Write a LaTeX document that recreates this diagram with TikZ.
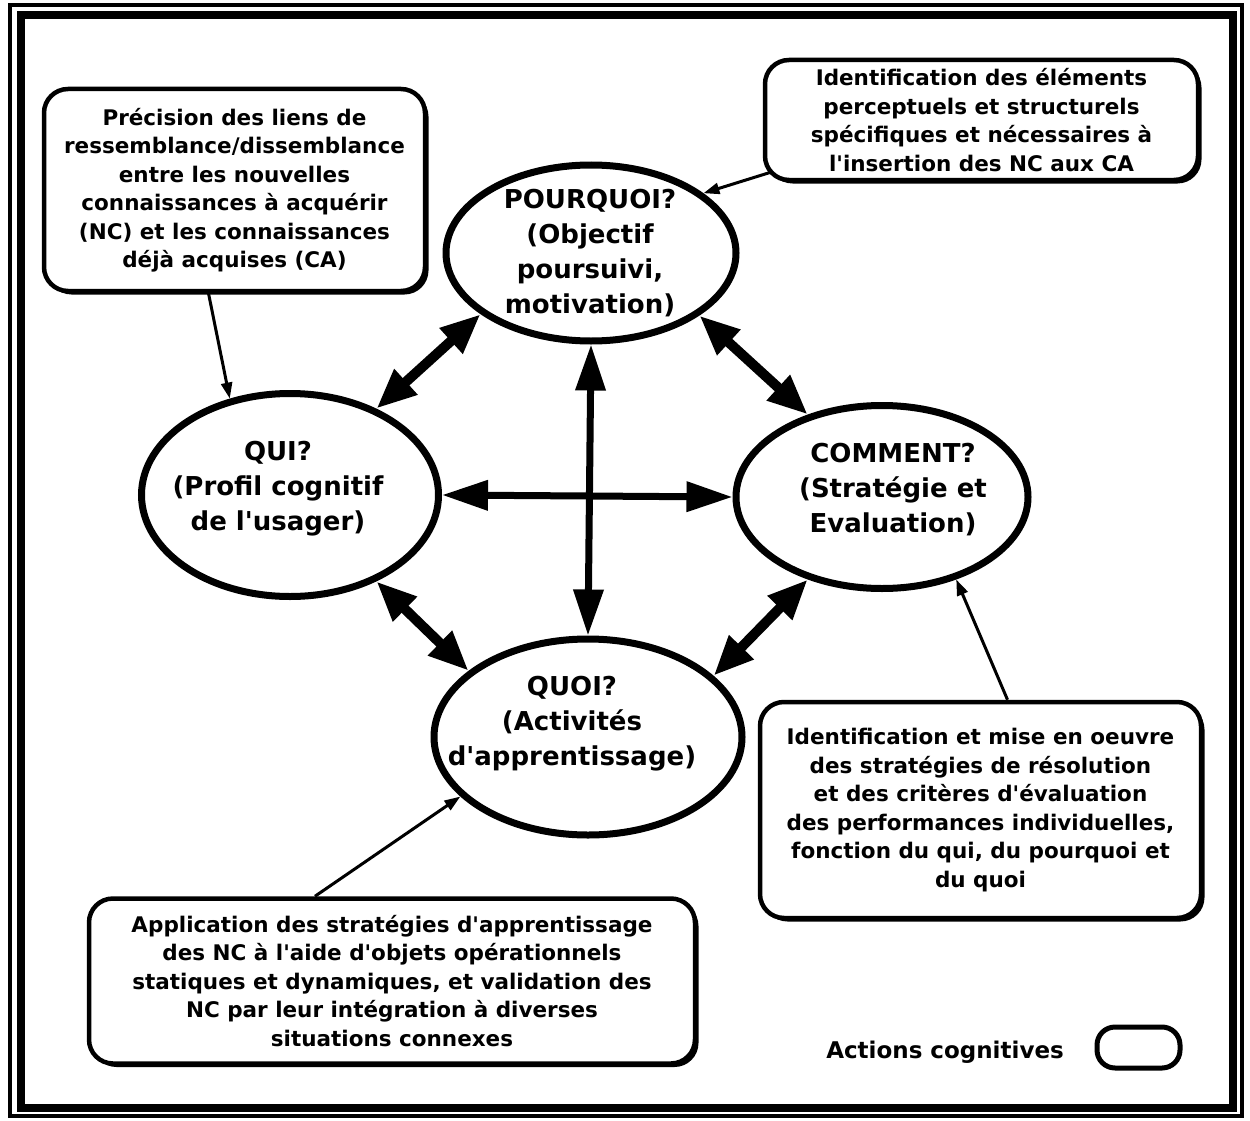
\documentclass[tikz,border=0pt]{standalone}
\usepackage{fontspec}
\setmainfont{DejaVu Sans}
\usetikzlibrary{arrows.meta,shapes.geometric,shadows}
% straight apostrophe, as typed
\newcommand{\ap}{\textquotesingle}

\begin{document}
\begin{tikzpicture}[x=1pt,y=-1pt,
  bubble/.style={ellipse, draw, line width=7pt, inner sep=0pt},
  bubbletext/.style={align=center, inner sep=0pt, font=\fontsize{26}{35}\selectfont\bfseries},
  note/.style={draw, line width=4.5pt, rounded corners=24pt, fill=white, inner sep=0pt,
    align=center, font=\fontsize{21.5}{28.5}\selectfont\bfseries,
    drop shadow={shadow xshift=3.5pt, shadow yshift=-3.5pt, fill=black, opacity=1}},
  link/.style={line width=3pt, -{Triangle[length=16pt,width=11pt]}},
  cross/.style={line width=7pt, {Triangle[length=46pt,width=29pt]}-{Triangle[length=46pt,width=29pt]}},
  diag/.style={line width=10pt, {Triangle[length=40pt,width=32pt]}-{Triangle[length=40pt,width=32pt]}},
]
\useasboundingbox (0,0) rectangle (1250,1121);
\fill[white] (0,0) rectangle (1250,1121);

% double frame
\draw[line width=4.5pt] (10,5) rectangle (1242,1116);
\draw[line width=8pt] (21,15) rectangle (1233,1108);

% the four questions
\node[bubble, minimum width=290pt, minimum height=176pt] (why)  at (591,253) {};
\node[bubble, minimum width=297pt, minimum height=203pt] (qui)  at (290,495) {};
\node[bubble, minimum width=292pt, minimum height=183pt] (how)  at (882,497) {};
\node[bubble, minimum width=308pt, minimum height=196pt] (what) at (588,737) {};

\node[bubbletext] (whyT)  at (590,253) {POURQUOI?\\(Objectif\\poursuivi,\\motivation)};
\node[bubbletext] (quiT)  at (278,489) {QUI?\\(Profil cognitif\\de l\ap usager)};
\node[bubbletext] (howT)  at (893,490) {COMMENT?\\(Stratégie et\\Evaluation)};
\node[bubbletext] (whatT) at (572,724) {QUOI?\\(Activités\\d\ap apprentissage)};

% links between the questions
\draw[cross] (why.south) -- (what.north);
\draw[cross] (qui.east) -- (how.west);
\draw[diag] (qui.45) -- (why.209);
\draw[diag] (why.-30) -- (how.132);
\draw[diag] (qui.-45) -- (what.151);
\draw[diag] (how.228) -- (what.26);

% cognitive actions
\node[note, minimum width=381pt, minimum height=202pt] (b1) at (234.5,190)
  {Précision des liens de\\ressemblance/dissemblance\\entre les nouvelles\\connaissances à acquérir\\(NC) et les connaissances\\déjà acquises (CA)};
\node[note, minimum width=433pt, minimum height=120pt] (b2) at (981.5,120)
  {Identification des éléments\\perceptuels et structurels\\spécifiques et nécessaires à\\l\ap insertion des NC aux CA};
\node[note, minimum width=441pt, minimum height=216pt] (b3) at (980.5,810)
  {Identification et mise en oeuvre\\des stratégies de résolution\\et des critères d\ap évaluation\\des performances individuelles,\\fonction du qui, du pourquoi et\\du quoi};
\node[note, minimum width=606pt, minimum height=165pt] (b4) at (392,981)
  {Application des stratégies d\ap apprentissage\\des NC à l\ap aide d\ap objets opérationnels\\statiques et dynamiques, et validation des\\NC par leur intégration à diverses\\situations connexes};

\draw[link] ([xshift=-26pt]b1.south) -- (qui.122);
\draw[link] ([xshift=8pt,yshift=10pt]b2.south west) -- (why.28);
\draw[link] ([xshift=27pt]b3.north) -- (how.-48);
\draw[link] ([xshift=-77pt]b4.north) -- (what.205);

% legend
\node[font=\fontsize{23}{27}\selectfont\bfseries, inner sep=0pt] (legT) at (945,1052) {Actions cognitives};
\node[draw, line width=5pt, rounded corners=18pt, minimum width=83pt, minimum height=41pt, inner sep=0pt] (legB) at (1138.5,1047.5) {};
\end{tikzpicture}
\end{document}
